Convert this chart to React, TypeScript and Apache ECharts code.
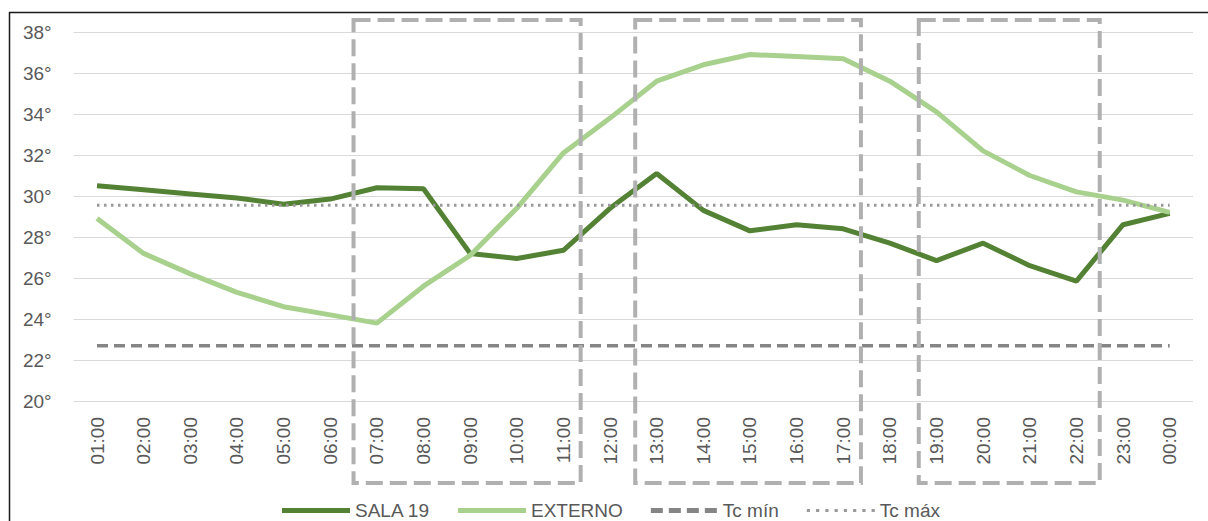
import React, { useEffect, useRef } from "react";
import * as echarts from "echarts";

const categories = [
  "01:00", "02:00", "03:00", "04:00", "05:00", "06:00", "07:00", "08:00",
  "09:00", "10:00", "11:00", "12:00", "13:00", "14:00", "15:00", "16:00",
  "17:00", "18:00", "19:00", "20:00", "21:00", "22:00", "23:00", "00:00",
];

const sala19 = [
  30.5, 30.3, 30.1, 29.9, 29.6, 29.85, 30.4, 30.35, 27.2, 26.95, 27.35, 29.4,
  31.1, 29.3, 28.3, 28.6, 28.4, 27.7, 26.85, 27.7, 26.6, 25.85, 28.6, 29.15,
];

const externo = [
  28.9, 27.2, 26.2, 25.3, 24.6, 24.2, 23.8, 25.6, 27.1, 29.4, 32.1, 33.8,
  35.6, 36.4, 36.9, 36.8, 36.7, 35.6, 34.1, 32.2, 31.0, 30.2, 29.8, 29.2,
];

const tcMin = 22.7;
const tcMax = 29.55;

const yTicks = { min: 20, max: 38, interval: 2 };

// highlighted periods, in (fractional) category index units
const boxes = [
  [5.5, 10.37],
  [11.54, 16.38],
  [17.62, 21.5],
];

const TEXT = "#595959";
const FONT = "Liberation Sans";
const FS = 19;

const dashIcon =
  "path://M0,0h12v5h-12zM18,0h12v5h-12zM36,0h12v5h-12zM54,0h12v5h-12z";
const dotIcon = (() => {
  let d = "path://";
  for (let i = 0; i < 8; i++) {
    const x = i * 8.6;
    d += `M${x},0h3v3h-3z`;
  }
  return d;
})();

export default function App() {
  const ref = useRef<HTMLDivElement>(null);

  useEffect(() => {
    document.body.style.margin = "0";
    const chart = echarts.init(ref.current!, null, { renderer: "svg" });
    const option: any = {
      animation: false,
      textStyle: { fontFamily: FONT },
      grid: { left: 73.7, right: 15, top: 32, bottom: 120, containLabel: false },
      legend: {
        left: 277,
        top: 496,
        itemWidth: 68,
        itemHeight: 5,
        itemGap: 28,
        textStyle: { color: TEXT, fontSize: FS, fontFamily: FONT },
        data: [
          { name: "SALA 19", icon: "rect" },
          { name: "EXTERNO", icon: "rect" },
          { name: "Tc mín", icon: dashIcon },
          { name: "Tc máx", icon: dotIcon },
        ],
      },
      xAxis: {
        type: "category",
        data: categories,
        boundaryGap: true,
        axisLine: { show: false },
        axisTick: { show: false },
        axisLabel: {
          rotate: 90,
          margin: 16,
          color: TEXT,
          fontSize: FS,
          fontFamily: FONT,
        },
      },
      yAxis: {
        type: "value",
        min: yTicks.min,
        max: yTicks.max,
        interval: yTicks.interval,
        axisLine: { show: false },
        axisTick: { show: false },
        splitLine: { lineStyle: { color: "#d9d9d9", width: 1 } },
        axisLabel: {
          formatter: "{value}°",
          margin: 22,
          color: TEXT,
          fontSize: FS,
          fontFamily: FONT,
        },
      },
      series: [
        {
          name: "SALA 19",
          type: "line",
          data: sala19,
          symbol: "none",
          lineStyle: { color: "#548235", width: 5 },
          itemStyle: { color: "#548235" },
          z: 2,
        },
        {
          name: "EXTERNO",
          type: "line",
          data: externo,
          symbol: "none",
          lineStyle: { color: "#a9d18e", width: 5 },
          itemStyle: { color: "#a9d18e" },
          z: 3,
        },
        {
          name: "Tc mín",
          type: "line",
          data: categories.map(() => tcMin),
          symbol: "none",
          lineStyle: { color: "#858585", width: 3.5, type: [11, 6] },
          itemStyle: { color: "#858585" },
          z: 4,
        },
        {
          name: "Tc máx",
          type: "line",
          data: categories.map(() => tcMax),
          symbol: "none",
          lineStyle: { color: "#9a9a9a", width: 3, type: [2.5, 4.5] },
          itemStyle: { color: "#9a9a9a" },
          z: 5,
        },
      ],
    };
    chart.setOption(option);

    const x0 = chart.convertToPixel({ xAxisIndex: 0 }, categories[0]) as number;
    const x1 = chart.convertToPixel({ xAxisIndex: 0 }, categories[1]) as number;
    const step = x1 - x0;
    const yTop = 20;
    const yBot = 483;
    const graphics: any[] = boxes.map(([a, b]) => ({
      type: "rect",
      z: 100,
      shape: { x: x0 + a * step, y: yTop, width: (b - a) * step, height: yBot - yTop },
      style: { fill: "none", stroke: "#b0b0b0", lineWidth: 4, lineDash: [17, 7] },
    }));
    graphics.push(
      {
        type: "line",
        z: 100,
        shape: { x1: 9, y1: 12.5, x2: 1208, y2: 12.5 },
        style: { stroke: "#1a1a1a", lineWidth: 1.5 },
      },
      {
        type: "line",
        z: 100,
        shape: { x1: 9.5, y1: 12, x2: 9.5, y2: 521 },
        style: { stroke: "#1a1a1a", lineWidth: 1.5 },
      }
    );
    chart.setOption({ graphic: graphics });

    return () => chart.dispose();
  }, []);

  return <div ref={ref} style={{ width: 1208, height: 521 }} />;
}
